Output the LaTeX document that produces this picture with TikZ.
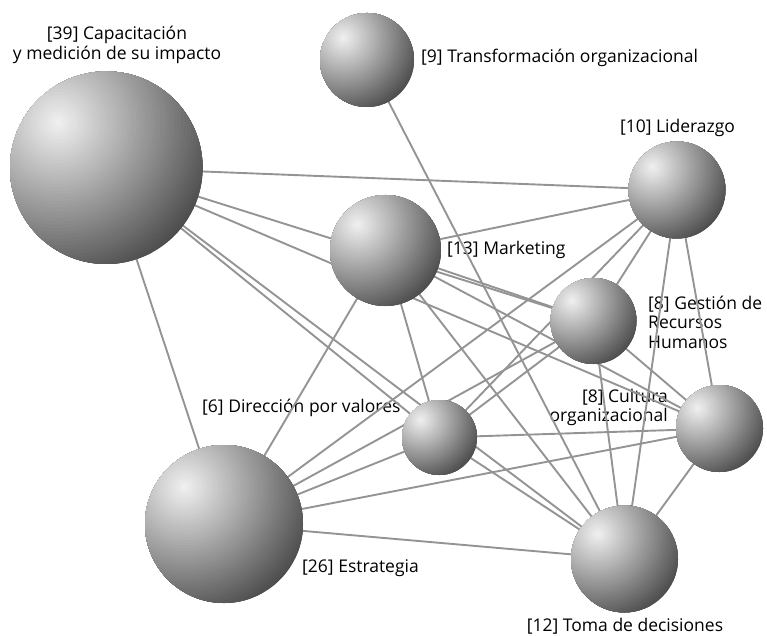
\documentclass[tikz,border=0pt]{standalone}
\usepackage{fontspec}
\setmainfont{Open Sans}
\pgfdeclarelayer{labels}
\pgfdeclarelayer{edges}
\pgfsetlayers{labels,edges,main}
\tikzset{
  ball/.style={circle, inner sep=0pt, minimum size={2*#1*1pt},
    path picture={
      \foreach \k in {0,...,47}{
        \pgfmathsetmacro\ff{1-\k/48}
        \pgfmathsetmacro\pc{5+65*\ff}
        \fill[black!\pc]
          ([xshift={-0.5*#1*1pt}, yshift={0.47*#1*1pt}]path picture bounding box.center)
          circle [radius={\ff*1.7*#1*1pt}];
      }}},
  link/.style={draw=black!42, line width=1.9pt},
  lbl/.style={font=\fontsize{17.5}{19.5}\selectfont, inner sep=0pt, text=black}
}
\begin{document}
\begin{tikzpicture}[x=1pt,y=-1pt]
\useasboundingbox (0,0) rectangle (767,636);
\node[ball=96.3] (C) at (106.3,167.7) {};
\node[ball=47] (T) at (367,60) {};
\node[ball=48.5] (L) at (677,190) {};
\node[ball=55.5] (M) at (385.5,250.5) {};
\node[ball=43] (G) at (593.5,321) {};
\node[ball=37.5] (D) at (439.5,437.5) {};
\node[ball=43.5] (Cu) at (719.5,428.5) {};
\node[ball=79] (E) at (224,524) {};
\node[ball=53.5] (Tk) at (624.5,559) {};
\begin{pgfonlayer}{edges}
\foreach \a/\b in {C/L, C/G, C/Cu, C/D, C/Tk, C/E, T/Tk, L/M, L/E, L/D, L/G, L/Tk, L/Cu,
  M/G, M/E, M/D, M/Cu, M/Tk, G/E, G/D, G/Tk, G/Cu, D/E, D/Cu, D/Tk, Cu/E, Cu/Tk, E/Tk}
  \draw[link] (\a.center) -- (\b.center);
\end{pgfonlayer}
\begin{pgfonlayer}{labels}
\node[lbl, align=center] (lC) at (117,45) {[39] Capacitación\\y medición de su impacto};
\node[lbl, anchor=west] (lT) at (421,58) {[9] Transformación organizacional};
\node[lbl] (lL) at (677.5,128) {[10] Liderazgo};
\node[lbl, anchor=west] (lM) at (447,250) {[13] Marketing};
\node[lbl, anchor=west, align=left] (lG) at (648,322) {[8] Gestión de\\Recursos\\Humanos};
\node[lbl, anchor=east, align=right] (lCu) at (668,407.5) {[8] Cultura\\organizacional};
\node[lbl, anchor=west] (lD) at (202,408) {[6] Dirección por valores};
\node[lbl, anchor=west] (lE) at (302,568) {[26] Estrategia};
\node[lbl] (lTk) at (625,626) {[12] Toma de decisiones};
\end{pgfonlayer}
\end{tikzpicture}
\end{document}
